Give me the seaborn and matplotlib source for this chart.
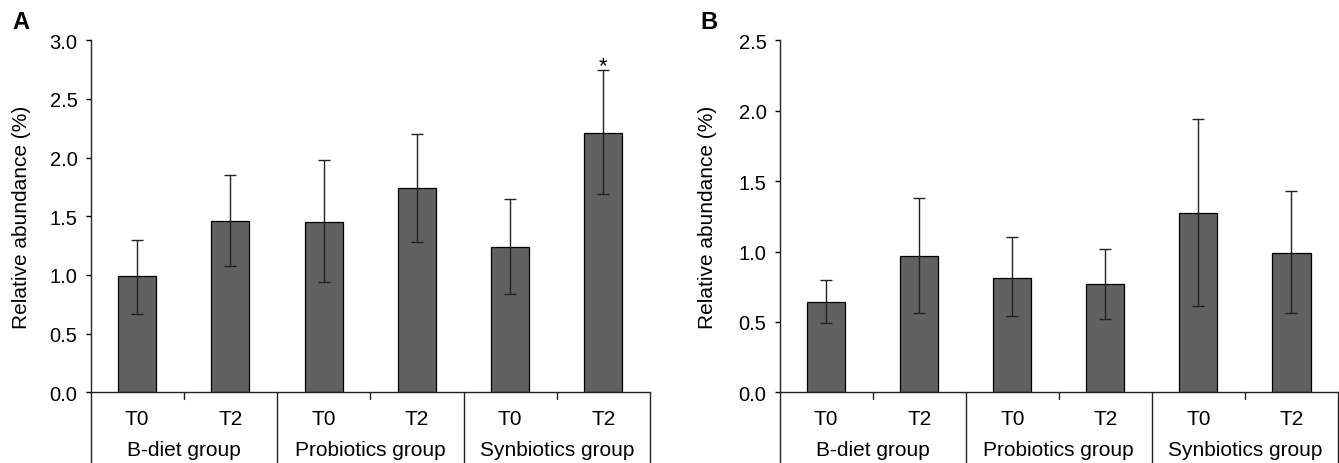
import matplotlib
matplotlib.use("Agg")
import matplotlib.pyplot as plt
import matplotlib.transforms as mtransforms
import numpy as np
import pandas as pd
import seaborn as sns

# ---------------- data ----------------
groups = ["B-diet group", "Probiotics group", "Synbiotics group"]
times = ["T0", "T2"]

a_mean = [0.99, 1.46, 1.45, 1.74, 1.24, 2.21]
a_low = [0.67, 1.08, 0.94, 1.28, 0.84, 1.69]
a_high = [1.30, 1.85, 1.98, 2.20, 1.65, 2.75]
a_sig = [False, False, False, False, False, True]

b_mean = [0.64, 0.97, 0.81, 0.77, 1.27, 0.99]
b_low = [0.49, 0.56, 0.54, 0.52, 0.61, 0.56]
b_high = [0.80, 1.38, 1.10, 1.02, 1.94, 1.43]
b_sig = [False, False, False, False, False, False]

a_ticks = [0.0, 0.5, 1.0, 1.5, 2.0, 2.5, 3.0]
b_ticks = [0.0, 0.5, 1.0, 1.5, 2.0, 2.5]
ylabel = "Relative abundance (%)"

# ---------------- style ----------------
sns.set_theme(style="white")
plt.rcParams["font.family"] = ["Liberation Sans", "DejaVu Sans"]
plt.rcParams["axes.linewidth"] = 1.0

BAR = "#616161"
LINE = "#222222"

fig = plt.figure(figsize=(13.39, 4.64), dpi=100)
W, H = 1339.0, 464.0


def panel(left_px, right_px, means, lows, highs, sig, ticks, letter, letter_x, ylab_x):
    top_px, bot_px = 41.3, 393.3
    ax = fig.add_axes([left_px / W, 1 - bot_px / H,
                       (right_px - left_px) / W, (bot_px - top_px) / H])
    cats = [f"{g} {t}" for g in groups for t in times]
    df = pd.DataFrame({"cat": cats, "val": means})
    sns.barplot(data=df, x="cat", y="val", order=cats, color=BAR,
                saturation=1, edgecolor="black", linewidth=0.9,
                width=0.41, errorbar=None, ax=ax)
    for p in ax.patches:
        p.set_facecolor(BAR)
    m = np.array(means)
    yerr = [m - np.array(lows), np.array(highs) - m]
    ax.errorbar(np.arange(len(cats)), m, yerr=yerr, fmt="none",
                ecolor=LINE, elinewidth=1.0, capsize=4.3, capthick=1.0, zorder=5)
    for i, s in enumerate(sig):
        if s:
            ax.text(i, highs[i] - 0.015, "*", ha="center", va="baseline",
                    fontsize=16, color="black")

    ax.set_xlim(-0.5, len(cats) - 0.5)
    ax.set_ylim(0, ticks[-1])
    ax.set_yticks(ticks)
    ax.set_yticklabels([f"{t:.1f}" for t in ticks], fontsize=14.5)
    ax.tick_params(axis="y", direction="out", length=3.6, width=1.0,
                   pad=5.8, left=True, colors="black")
    ax.set_xticks([])
    ax.set_xlabel("")
    ax.set_ylabel(ylabel, fontsize=15, color="black")
    ax.yaxis.set_label_coords(ylab_x, 0.5)
    for sp in ["top", "right"]:
        ax.spines[sp].set_visible(False)
    for sp in ["left", "bottom"]:
        ax.spines[sp].set_color(LINE)
    ax.spines["bottom"].set_zorder(6)

    trans = mtransforms.blended_transform_factory(ax.transData, ax.transAxes)
    # time labels
    for i, c in enumerate(cats):
        ax.text(i, -0.090, times[i % 2], transform=trans, ha="center",
                va="baseline", fontsize=15, color="black")
    # group labels
    for gi, g in enumerate(groups):
        ax.text(gi * 2 + 0.5, -0.178, g, transform=trans, ha="center",
                va="baseline", fontsize=15, color="black")
    # group separators
    bottom_axes = -(H - bot_px) / (bot_px - top_px) - 0.01
    for b in [-0.5, 1.5, 3.5, 5.5]:
        ax.plot([b, b], [0, bottom_axes], transform=trans, color=LINE,
                lw=1.0, clip_on=False)
    # small ticks between the two bars of each group
    for b in [0.5, 2.5, 4.5]:
        ax.plot([b, b], [0, -7 / (bot_px - top_px)], transform=trans,
                color=LINE, lw=1.0, clip_on=False)

    fig.text(letter_x / W, 1 - 29 / H, letter, fontsize=17, fontweight="bold",
             ha="left", va="baseline", color="black")
    return ax


panel(90.5, 650, a_mean, a_low, a_high, a_sig, a_ticks, "A", 12, -0.1055)
panel(779.6, 1338, b_mean, b_low, b_high, b_sig, b_ticks, "B", 700, -0.112)

fig.savefig("out.png", dpi=100)
